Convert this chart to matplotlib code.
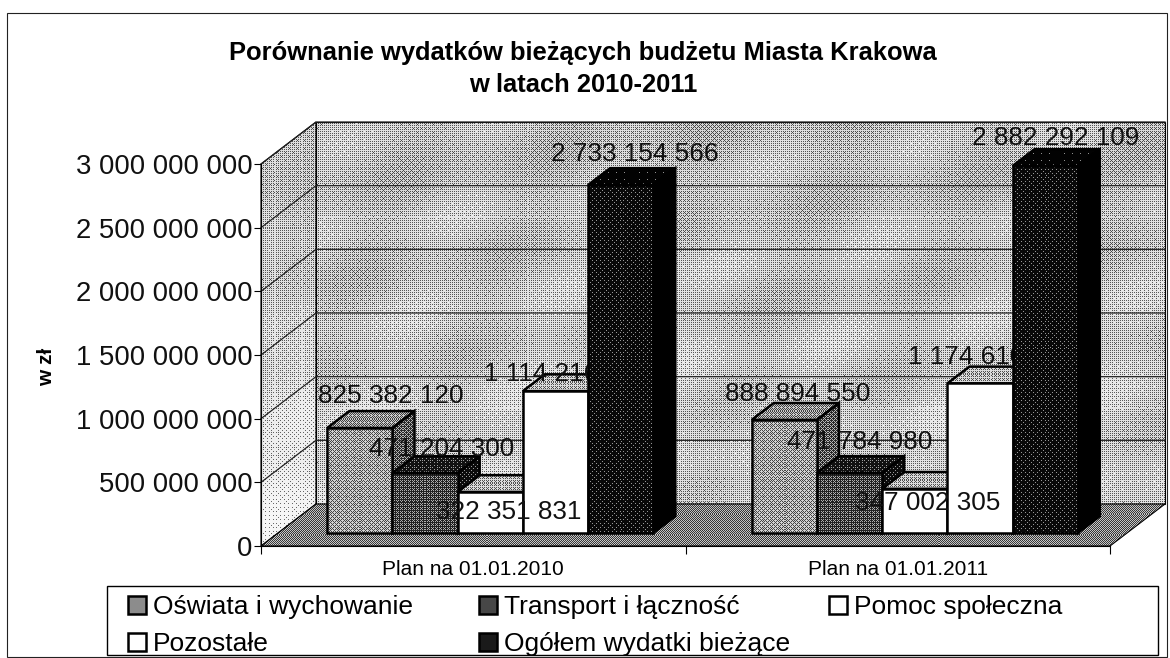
import numpy as np
import matplotlib
matplotlib.use('Agg')
import matplotlib.pyplot as plt
from matplotlib.patches import Polygon, Patch, Rectangle
from matplotlib.ticker import FuncFormatter

plt.rcParams['font.family'] = ['Liberation Sans', 'DejaVu Sans']

# data
categories = ['Plan na 01.01.2010', 'Plan na 01.01.2011']
series_names = ['Oświata i wychowanie', 'Transport i łączność', 'Pomoc społeczna', 'Pozostałe', 'Ogółem wydatki bieżące']
oswiata = [825382120, 888894550]
transport = [471204300, 471784980]
pomoc = [322351831, 347002305]
pozostale = [1114216315, 1174610274]
ogolem = [2733154566, 2882292109]
series = [oswiata, transport, pomoc, pozostale, ogolem]

# label offsets from the top of each front face, in pixels
label_offsets = [
    [(31, 32), (17, 24), (18, -20), (11, 17), (14, 31)],
    [(13, 26), (10, 31), (13, -14), (12, 26), (10, 28)],
]

# (front, top, side) grey levels
bar_greys = [(0.60, 0.55, 0.36), (0.30, 0.15, 0.10), (1.0, 0.68, 0.3), (1.0, 0.68, 0.3), (0.08, 0.02, 0.0)]
legend_greys = ['0.55', '0.28', 'white', 'white', '0.1']

W, H = 1170, 658
fig = plt.figure(figsize=(W / 100, H / 100), dpi=100, facecolor='white')
ax = fig.add_axes([261 / W, 1 - 546 / H, 849 / W, 382 / H])
ax.set_xlim(0, 2)
ax.set_ylim(0, 3e9)
ax.set_autoscale_on(False)

# depth of the 3d box, data units
depth_x = 55 / 424.5
depth_y = 42 / 382 * 3e9
bar_d0, bar_d1 = 0.31, 0.71
bar_w = 0.1536
gap = (1 - 5 * bar_w) / 2

bayer = np.array([[0, 32, 8, 40, 2, 34, 10, 42], [48, 16, 56, 24, 50, 18, 58, 26],
                  [12, 44, 4, 36, 14, 46, 6, 38], [60, 28, 52, 20, 62, 30, 54, 22],
                  [3, 35, 11, 43, 1, 33, 9, 41], [51, 19, 59, 27, 49, 17, 57, 25],
                  [15, 47, 7, 39, 13, 45, 5, 37], [63, 31, 55, 23, 61, 29, 53, 21]]) / 64


def proj(x, v, d):
    return (x + d * depth_x, v + d * depth_y)


def shade(pts, top, bottom=None, z=1, edge='black', lw=0.8, blotch=0.0):
    # polygon filled with a halftone like the scanned original
    bottom = top if bottom is None else bottom
    pts = np.array(pts)
    poly = Polygon(pts, closed=True, fill=False, edgecolor=edge, linewidth=lw, zorder=z + 0.1, clip_on=False)
    ax.add_patch(poly)
    x0, x1 = pts[:, 0].min(), pts[:, 0].max()
    y0, y1 = pts[:, 1].min(), pts[:, 1].max()
    nx = max(int((x1 - x0) / 2 * 849) + 2, 2)
    ny = max(int((y1 - y0) / 3e9 * 382) + 2, 2)
    g = np.linspace(top, bottom, ny)[:, None] * np.ones((ny, nx))
    if blotch:
        yy, xx = np.mgrid[0:ny, 0:nx]
        g = g + blotch * np.sin(xx / 37 + yy / 23) * np.cos(xx / 61 - yy / 41)
    tile = np.tile(bayer, (ny // 8 + 1, nx // 8 + 1))[:ny, :nx]
    img = 0.55 * (g > tile) + 0.45 * g
    im = ax.imshow(img, extent=(x0, x1, y0, y1), origin='upper', cmap='gray', vmin=0, vmax=1,
                   aspect='auto', interpolation='nearest', zorder=z)
    im.set_clip_box(fig.bbox)
    clip = Polygon(pts, closed=True, transform=ax.transData)
    im.set_clip_path(clip)


# walls and floor
shade([proj(0, 0, 1), proj(2, 0, 1), proj(2, 3e9, 1), proj(0, 3e9, 1)], 0.70, 0.76, z=1, blotch=0.07)
shade([proj(0, 0, 0), proj(0, 0, 1), proj(0, 3e9, 1), proj(0, 3e9, 0)], 0.66, 0.90, z=1, blotch=0.04)
shade([proj(0, 0, 0), proj(2, 0, 0), proj(2, 0, 1), proj(0, 0, 1)], 0.50, 0.50, z=2)

# gridlines
for v in np.arange(500e6, 3.01e9, 500e6):
    px, py = zip(proj(0, v, 0), proj(0, v, 1), proj(2, v, 1))
    ax.plot(px, py, color='#222222', lw=0.9, zorder=1.5, clip_on=False)

# bars, left to right
z = 3
for c in range(len(categories)):
    for s in range(len(series)):
        val = series[s][c]
        x0 = c + gap + s * bar_w
        x1 = x0 + bar_w
        front, top, side = bar_greys[s]
        lw = 1.8
        shade([proj(x0, val, bar_d0), proj(x1, val, bar_d0), proj(x1, val, bar_d1), proj(x0, val, bar_d1)], top, z=z, lw=lw)
        shade([proj(x1, 0, bar_d0), proj(x1, 0, bar_d1), proj(x1, val, bar_d1), proj(x1, val, bar_d0)], side, z=z, lw=lw)
        shade([proj(x0, 0, bar_d0), proj(x1, 0, bar_d0), proj(x1, val, bar_d0), proj(x0, val, bar_d0)], front, z=z + 0.3, lw=lw)
        z += 1
    z += 1

# labels sit above the short bars but under the tall one, except its own
base = 3
for c in range(len(categories)):
    for s in range(len(series)):
        val = series[s][c]
        cx = c + gap + (s + 0.5) * bar_w
        txt = f'{val:,d}'.replace(',', ' ')
        label_z = base + 3.8 if s < 4 else base + 5
        ax.annotate(txt, xy=proj(cx, val, bar_d0), xytext=label_offsets[c][s], textcoords='offset pixels',
                    ha='center', va='center', fontsize=18.8, color='#111111', zorder=label_z, annotation_clip=False)
    base += 6

# axes
for name in ['top', 'right']:
    ax.spines[name].set_visible(False)
for name in ['left', 'bottom']:
    ax.spines[name].set_zorder(2.5)
ax.set_yticks(np.arange(0, 3.01e9, 500e6))
ax.yaxis.set_major_formatter(FuncFormatter(lambda v, p: f'{v:,.0f}'.replace(',', ' ')))
ax.tick_params(axis='y', labelsize=19.8, length=5, pad=1, labelcolor='#111111')
ax.set_xticks([0, 1, 2])
ax.set_xticklabels(['', '', ''])
ax.set_xticks([0.5, 1.5], minor=True)
ax.set_xticklabels(categories, minor=True, fontsize=15)
ax.tick_params(axis='x', which='major', length=6)
ax.tick_params(axis='x', which='minor', length=0, pad=10)

# title and axis name
fig.text(583 / W, 1 - 53 / H, 'Porównanie wydatków bieżących budżetu Miasta Krakowa', ha='center', va='center',
         fontsize=18.4, fontweight='bold')
fig.text(583 / W, 1 - 85 / H, 'w latach 2010-2011', ha='center', va='center', fontsize=18.4, fontweight='bold')
fig.text(47 / W, 1 - 367 / H, 'w zł', rotation=90, ha='center', va='center', fontsize=15, fontweight='bold')

# legend frame, then one frameless legend per column so the columns can sit where they do in the original
fig.add_artist(Rectangle((107 / W, 1 - 655 / H), 1051 / W, 69 / H, facecolor='white', edgecolor='black', linewidth=1.0,
                         transform=fig.transFigure))
columns = [([0, 3], 128), ([1, 4], 479), ([2], 829)]
for idx, left in columns:
    handles = [Patch(facecolor=legend_greys[i], edgecolor='black', linewidth=1.8, label=series_names[i]) for i in idx]
    fig.legend(handles=handles, loc='upper left', bbox_to_anchor=(left / W, 1 - 595 / H), fontsize=19, frameon=False,
               handlelength=0.68, handleheight=0.68, handletextpad=0.27, labelspacing=0.49, borderpad=0, borderaxespad=0)

# outer frame
fig.add_artist(Rectangle((7 / W, 1 - 657 / H), 1160 / W, 644 / H, fill=False, edgecolor='#222222', linewidth=0.8,
                         transform=fig.transFigure))

fig.savefig('out.png', dpi=100)
